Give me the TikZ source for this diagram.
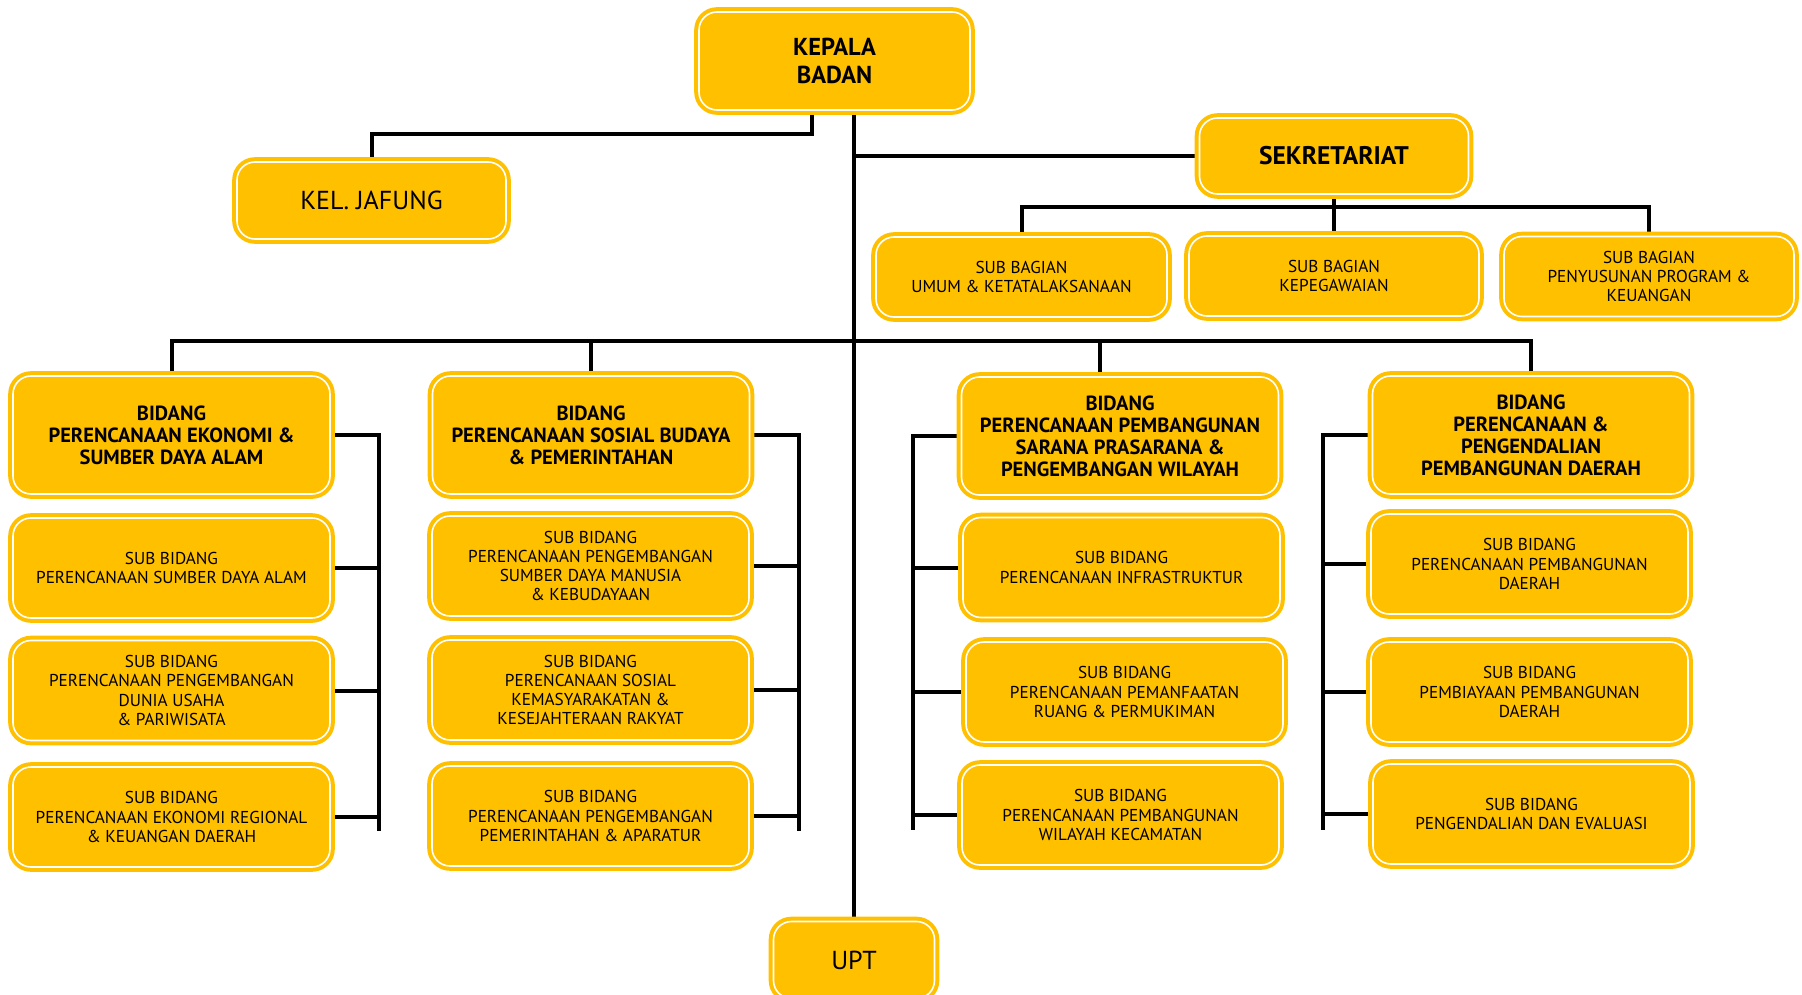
\documentclass[tikz,border=0pt]{standalone}
\usepackage{fontspec}
\setmainfont{PT Sans}
\usetikzlibrary{positioning,backgrounds}
\definecolor{emas}{HTML}{FFC000}

\begin{document}
\begin{tikzpicture}[x=1pt,y=-1pt,
    kotak/.style={draw=emas,double=white,double distance=1.6pt,line width=4pt,
      fill=emas,rounded corners=18pt,align=center,inner sep=2pt},
    bidang/.style={kotak,minimum width=317pt,minimum height=118pt,
      font=\bfseries\fontsize{20.5}{22}\selectfont},
    subbox/.style={kotak,minimum width=317pt,minimum height=100pt,
      font=\fontsize{17.2}{19.3}\selectfont},
    bagian/.style={subbox,minimum width=290pt,minimum height=80pt},
    garis/.style={draw=black,line width=4pt}]
    \useasboundingbox (0,0) rectangle (1802,995);
    \clip (0,0) rectangle (1802,995);

    % pimpinan
    \node[kotak,minimum width=271pt,minimum height=98pt,
      font=\bfseries\fontsize{24.5}{28}\selectfont] (kepala) at (834.5,61) {KEPALA\\BADAN};
    \node[kotak,minimum width=269pt,minimum height=77pt,
      font=\fontsize{26}{28}\selectfont] (jafung) at (371.5,200.5) {KEL. JAFUNG};
    \node[kotak,minimum width=269pt,minimum height=76pt,
      font=\bfseries\fontsize{25.5}{28}\selectfont] (sekre) at (1334,156) {SEKRETARIAT};
    \node[kotak,minimum width=161pt,minimum height=77pt,
      font=\fontsize{26}{28}\selectfont] (upt) at (854,960) {UPT};

    % sekretariat
    \node[bagian,minimum width=291pt] (sb1) at (1021.5,277) {SUB BAGIAN\\UMUM \& KETATALAKSANAAN};
    \node[bagian] (sb2) at (1334,276) {SUB BAGIAN\\KEPEGAWAIAN};
    \node[bagian] (sb3) at (1649,276.5) {SUB BAGIAN\\PENYUSUNAN PROGRAM \&\\KEUANGAN};

    % bidang
    \node[bidang] (bid1) at (171.5,435) {BIDANG\\PERENCANAAN EKONOMI \&\\SUMBER DAYA ALAM};
    \node[bidang] (bid2) at (591,435) {BIDANG\\PERENCANAAN SOSIAL BUDAYA\\\& PEMERINTAHAN};
    \node[bidang] (bid3) at (1120,436) {BIDANG\\PERENCANAAN PEMBANGUNAN\\SARANA PRASARANA \&\\PENGEMBANGAN WILAYAH};
    \node[bidang] (bid4) at (1531,435) {BIDANG\\PERENCANAAN \&\\PENGENDALIAN\\PEMBANGUNAN DAERAH};

    % sub bidang
    \node[subbox] (s11) at (171.5,568) {SUB BIDANG\\PERENCANAAN SUMBER DAYA ALAM};
    \node[subbox] (s12) at (171.5,690.5) {SUB BIDANG\\PERENCANAAN PENGEMBANGAN\\DUNIA USAHA\\\& PARIWISATA};
    \node[subbox] (s13) at (171.5,817) {SUB BIDANG\\PERENCANAAN EKONOMI REGIONAL\\\& KEUANGAN DAERAH};
    \node[subbox] (s21) at (590.5,566) {SUB BIDANG\\PERENCANAAN PENGEMBANGAN\\SUMBER DAYA MANUSIA\\\& KEBUDAYAAN};
    \node[subbox] (s22) at (590.5,690) {SUB BIDANG\\PERENCANAAN SOSIAL\\KEMASYARAKATAN \&\\KESEJAHTERAAN RAKYAT};
    \node[subbox] (s23) at (590.5,816) {SUB BIDANG\\PERENCANAAN PENGEMBANGAN\\PEMERINTAHAN \& APARATUR};
    \node[subbox] (s31) at (1121.5,567.5) {SUB BIDANG\\PERENCANAAN INFRASTRUKTUR};
    \node[subbox] (s32) at (1124.5,692) {SUB BIDANG\\PERENCANAAN PEMANFAATAN\\RUANG \& PERMUKIMAN};
    \node[subbox] (s33) at (1120.5,815) {SUB BIDANG\\PERENCANAAN PEMBANGUNAN\\WILAYAH KECAMATAN};
    \node[subbox] (s41) at (1529.5,564) {SUB BIDANG\\PERENCANAAN PEMBANGUNAN\\DAERAH};
    \node[subbox] (s42) at (1529.5,692) {SUB BIDANG\\PEMBIAYAAN PEMBANGUNAN\\DAERAH};
    \node[subbox] (s43) at (1531.5,814) {SUB BIDANG\\PENGENDALIAN DAN EVALUASI};

    % garis
    \coordinate (kj) at (812,134);
    \coordinate (trunk) at (854,0);
    \coordinate (sbbar) at (0,207);
    \coordinate (mbar) at (0,341);
    \coordinate (br1) at (379,831);
    \coordinate (br2) at (799,831);
    \coordinate (br3) at (913,830);
    \coordinate (br4) at (1323,830);
    \begin{pgfonlayer}{background}
      \draw[garis] (kepala.south -| kj) -- (kj) -| (jafung.north);
      \draw[garis] (kepala.south -| trunk) -- (upt.north -| trunk);
      \draw[garis] (trunk |- sekre.west) -- (sekre.west);
      \draw[garis] (sekre.south) -- (sb2.north);
      \draw[garis] (sb1.north) -- (sb1.north |- sbbar) -- (sb3.north |- sbbar) -- (sb3.north);
      \draw[garis] (bid1.north) -- (bid1.north |- mbar) -- (bid4.north |- mbar) -- (bid4.north);
      \draw[garis] (bid2.north) -- (bid2.north |- mbar);
      \draw[garis] ([xshift=-20pt]bid3.north) -- ([xshift=-20pt]bid3.north |- mbar);
      \foreach \c/\b in {1/east,2/east,3/west,4/west}{
        \draw[garis] (bid\c.\b) -| (br\c);
        \foreach \n in {1,2,3}
          \draw[garis] (s\c\n.\b) -- (s\c\n.\b -| br\c);
      }
    \end{pgfonlayer}
\end{tikzpicture}
\end{document}
